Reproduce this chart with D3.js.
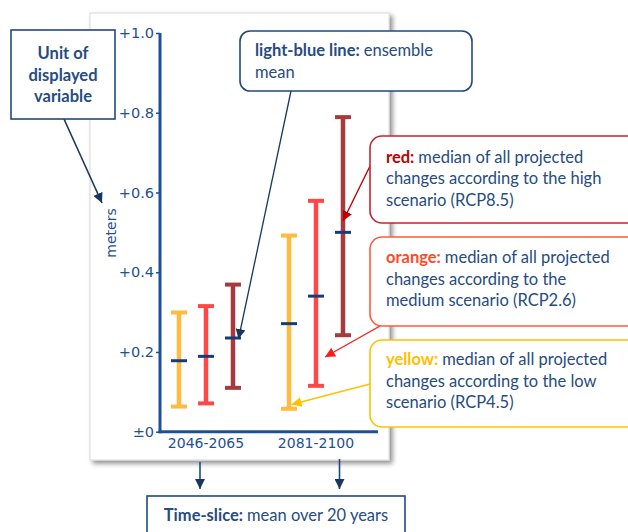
<!DOCTYPE html>
<html>
<head>
<meta charset="utf-8">
<script src="https://cdn.jsdelivr.net/npm/d3@7"></script>
<style>
  body { margin: 0; background: #fff; }
  svg { display: block; }
</style>
</head>
<body>
<div id="chart-area"></div>
<script>
// data
var periods = ["2046-2065", "2081-2100"];
var scenarios = ["low", "medium", "high"];          // yellow, orange, red
var lowValues = [[0.063, 0.0575], [0.071, 0.115], [0.110, 0.242]];
var highValues = [[0.299, 0.492], [0.315, 0.579], [0.369, 0.789]];
var meanValues = [[0.178, 0.271], [0.189, 0.340], [0.235, 0.500]];
var yTicks = [0, 0.2, 0.4, 0.6, 0.8, 1.0];

var barColor = { low: "#FFBA3F", medium: "#FF4747", high: "#A63A3C" };
var axisBlue = "#1F4F94";
var textBlue = "#264C80";

var width = 628, height = 532;

var svg = d3.select("#chart-area")
    .append("svg")
    .attr("width", width)
    .attr("height", height);

var defs = svg.append("defs");
defs.append("filter")
    .attr("id", "shadow")
    .attr("x", "-10%").attr("y", "-10%")
    .attr("width", "120%").attr("height", "120%")
    .append("feDropShadow")
    .attr("dx", 3).attr("dy", 3)
    .attr("stdDeviation", 2.5)
    .attr("flood-color", "#000")
    .attr("flood-opacity", 0.45);

function marker(id, color) {
    defs.append("marker")
        .attr("id", id)
        .attr("viewBox", "0 0 10 10")
        .attr("refX", 10).attr("refY", 5)
        .attr("markerWidth", 10).attr("markerHeight", 10)
        .attr("markerUnits", "userSpaceOnUse")
        .attr("orient", "auto")
        .append("path")
        .attr("d", "M0,0 L10,5 L0,10 z")
        .attr("fill", color);
}
marker("arNavy", "#17375E");
marker("arDark", "#C00000");
marker("arRed", "#FF1A1A");
marker("arYellow", "#FFC000");

// panel
svg.append("rect")
    .attr("x", 90).attr("y", 13)
    .attr("width", 299).attr("height", 447)
    .attr("fill", "#fff")
    .attr("stroke", "#d9d9d9")
    .attr("stroke-width", 1)
    .attr("filter", "url(#shadow)");

// scales
var y = d3.scaleLinear()
    .domain([0, 1])
    .range([431.7, 33]);

var x = d3.scalePoint()
    .domain(periods)
    .range([206, 316]);

var xInner = d3.scalePoint()
    .domain(scenarios)
    .range([-27, 27]);

// y axis
var yAxisCall = d3.axisLeft(y)
    .tickValues(yTicks)
    .tickSize(4)
    .tickFormat(function (d) { return d === 0 ? "\u00b10" : "+" + d.toFixed(1); });

var yAxis = svg.append("g")
    .attr("transform", "translate(160,0)")
    .call(yAxisCall);
yAxis.select(".domain")
    .attr("stroke", axisBlue)
    .attr("stroke-width", 3)
    .attr("d", "M0," + y(1) + "V" + (y(0) + 1.5));
yAxis.selectAll(".tick line").attr("stroke", axisBlue).attr("stroke-width", 1.5);
yAxis.selectAll(".tick text")
    .attr("fill", axisBlue)
    .attr("font-family", "DejaVu Sans")
    .attr("font-size", "14.5px")
    .attr("x", -6);

// x axis
svg.append("line")
    .attr("x1", 158.5).attr("x2", 378)
    .attr("y1", y(0)).attr("y2", y(0))
    .attr("stroke", axisBlue)
    .attr("stroke-width", 3);

svg.selectAll(".period-label")
    .data(periods)
    .enter().append("text")
    .attr("class", "period-label")
    .attr("x", function (d) { return x(d); })
    .attr("y", 448)
    .attr("text-anchor", "middle")
    .attr("font-family", "DejaVu Sans")
    .attr("font-size", "14px")
    .attr("fill", axisBlue)
    .text(function (d) { return d; });

svg.append("text")
    .attr("transform", "translate(116,233) rotate(-90)")
    .attr("text-anchor", "middle")
    .attr("font-family", "DejaVu Sans")
    .attr("font-size", "14px")
    .attr("fill", axisBlue)
    .text("meters");

// error bars
var bars = [];
scenarios.forEach(function (s, i) {
    periods.forEach(function (p, j) {
        bars.push({ scenario: s, period: p, low: lowValues[i][j], high: highValues[i][j], mean: meanValues[i][j] });
    });
});

var bar = svg.selectAll(".bar")
    .data(bars)
    .enter().append("g")
    .attr("class", "bar")
    .attr("transform", function (d) { return "translate(" + (x(d.period) + xInner(d.scenario)) + ",0)"; });

bar.append("line")
    .attr("y1", function (d) { return y(d.low); })
    .attr("y2", function (d) { return y(d.high); })
    .attr("stroke", function (d) { return barColor[d.scenario]; })
    .attr("stroke-width", 4.5);

bar.selectAll(".cap")
    .data(function (d) { return [d.low, d.high].map(function (v) { return { v: v, s: d.scenario }; }); })
    .enter().append("line")
    .attr("class", "cap")
    .attr("x1", -8).attr("x2", 8)
    .attr("y1", function (c) { return y(c.v); })
    .attr("y2", function (c) { return y(c.v); })
    .attr("stroke", function (c) { return barColor[c.s]; })
    .attr("stroke-width", 4);

bar.append("line")
    .attr("x1", -8).attr("x2", 8)
    .attr("y1", function (d) { return y(d.mean); })
    .attr("y2", function (d) { return y(d.mean); })
    .attr("stroke", "#163D78")
    .attr("stroke-width", 3);

// annotations
function box(xp, yp, w, h, r, color) {
    svg.append("rect")
        .attr("x", xp).attr("y", yp)
        .attr("width", w).attr("height", h)
        .attr("rx", r).attr("ry", r)
        .attr("fill", "#fff")
        .attr("stroke", color)
        .attr("stroke-width", 1.6);
}

function arrow(x1, y1, x2, y2, color, id, w) {
    svg.append("line")
        .attr("x1", x1).attr("y1", y1)
        .attr("x2", x2).attr("y2", y2)
        .attr("stroke", color)
        .attr("stroke-width", w || 1.4)
        .attr("marker-end", "url(#" + id + ")");
}

// lines: array of [ [text, bold, color], ... ]
function textBlock(xp, y0, lines, anchor) {
    lines.forEach(function (line, i) {
        var t = svg.append("text")
            .attr("x", xp)
            .attr("y", y0 + i * 21.5)
            .attr("text-anchor", anchor || "start")
            .attr("font-family", "Lato")
            .attr("font-size", "16.5px");
        line.forEach(function (seg) {
            t.append("tspan")
                .attr("font-weight", seg[1] ? "bold" : "normal")
                .attr("fill", seg[2] || textBlue)
                .text(seg[0]);
        });
    });
}

// unit box
arrow(64, 119, 102, 203, "#17375E", "arNavy", 1.6);
box(11, 30, 104, 89, 0, "#1F497D");
textBlock(63, 59, [[["Unit of", true]], [["displayed", true]], [["variable", true]]], "middle");

// ensemble mean box
arrow(291, 91, 238.5, 339, "#17375E", "arNavy", 1.3);
box(240, 31, 232, 60, 10, "#1F497D");
textBlock(255, 56, [[["light-blue line: ", true], ["ensemble"]], [["mean"]]]);

// red box
arrow(372, 162, 343, 221, "#C00000", "arDark", 1.4);
box(370, 136, 275, 87, 12, "#C0272D");
textBlock(386, 162.5, [
    [["red: ", true, "#C00000"], ["median of all projected"]],
    [["changes according to the high"]],
    [["scenario (RCP8.5)"]]
]);

// orange box
arrow(380, 326, 325, 357, "#FF1A1A", "arRed", 1.4);
box(370, 237, 275, 89, 12, "#FF5A3A");
textBlock(386, 263.3, [
    [["orange: ", true, "#FF4B1F"], ["median of all projected"]],
    [["changes according to the"]],
    [["medium scenario (RCP2.6)"]]
]);

// yellow box
arrow(370, 384, 291.5, 404.5, "#FFC000", "arYellow", 1.4);
box(370, 340, 275, 87, 12, "#FFC000");
textBlock(386, 365, [
    [["yellow: ", true, "#FFC000"], ["median of all projected"]],
    [["changes according to the low"]],
    [["scenario (RCP4.5)"]]
]);

// time-slice box
arrow(200, 462, 200, 489, "#1F497D", "arNavy", 1.6);
arrow(339.5, 459, 339.5, 489, "#1F497D", "arNavy", 1.6);
box(147, 496, 258, 50, 0, "#1F497D");
textBlock(276, 520.5, [[["Time-slice: ", true], ["mean over 20 years"]]], "middle");
</script>
</body>
</html>
